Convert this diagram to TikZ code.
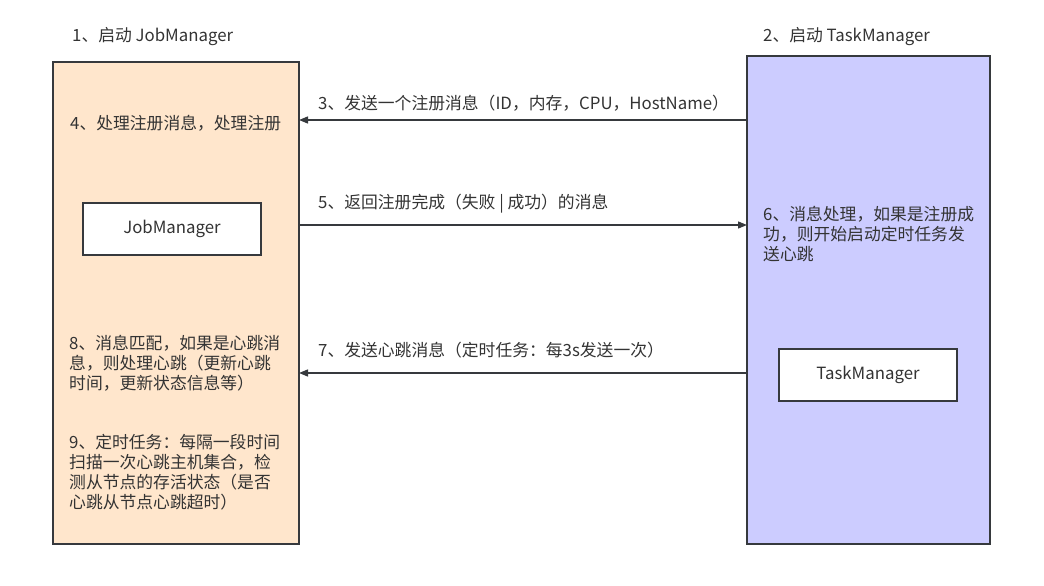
\documentclass[tikz,border=0pt]{standalone}
\usepackage{fontspec}
\setmainfont{Noto Sans CJK SC}
\usetikzlibrary{arrows.meta}
\definecolor{jmfill}{HTML}{FFE6CC}
\definecolor{tmfill}{HTML}{CCCCFF}
\definecolor{edge}{HTML}{36393D}
\definecolor{txt}{HTML}{333333}
\begin{document}
\begin{tikzpicture}[x=1pt,y=-1pt,
  every node/.style={font=\fontsize{16.8}{20}\selectfont, text=txt},
  bigbox/.style={draw=edge, line width=1.3pt},
  innerbox/.style={draw=edge, line width=1.3pt, fill=white, minimum width=178pt, minimum height=52pt, inner sep=0pt},
  lbl/.style={anchor=west, inner sep=0pt, align=left},
  msg/.style={draw=edge, line width=1.3pt, -{Triangle[length=9pt,width=7pt]}}
]
\useasboundingbox (0,0) rectangle (1044,586);
% big containers
\path[bigbox, fill=jmfill] (53,62) rectangle (299,544);
\path[bigbox, fill=tmfill] (747,56) rectangle (990,544);
\coordinate (jmR3) at (299,120);
\coordinate (tmL3) at (747,120);
\coordinate (jmR5) at (299,225);
\coordinate (tmL5) at (747,225);
\coordinate (jmR7) at (299,373);
\coordinate (tmL7) at (747,373);
% inner boxes
\node[innerbox] (jm) at (172,229) {JobManager};
\node[innerbox] (tm) at (868,375) {TaskManager};
% titles
\node[lbl] (t1) at (72,37) {1、启动 JobManager};
\node[lbl] (t2) at (763,37) {2、启动 TaskManager};
% texts in boxes
\node[lbl] (s4) at (70,123) {4、处理注册消息，处理注册};
\node[lbl] (s8) at (69,363) {8、消息匹配，如果是心跳消\\息，则处理心跳（更新心跳\\时间，更新状态信息等）};
\node[lbl] (s9) at (69,472) {9、定时任务：每隔一段时间\\扫描一次心跳主机集合，检\\测从节点的存活状态（是否\\心跳从节点心跳超时）};
\node[lbl] (s6) at (763,234) {6、消息处理，如果是注册成\\功，则开始启动定时任务发\\送心跳};
% messages
\draw[msg] (tmL3) -- (jmR3);
\draw[msg] (jmR5) -- (tmL5);
\draw[msg] (tmL7) -- (jmR7);
\node[lbl] (m3) at (318,103) {3、发送一个注册消息（ID，内存，CPU，HostName）};
\node[lbl] (m5) at (318,204) {5、返回注册完成（失败 | 成功）的消息};
\node[lbl] (m7) at (318,350) {7、发送心跳消息（定时任务：每3s发送一次）};
\end{tikzpicture}
\end{document}
